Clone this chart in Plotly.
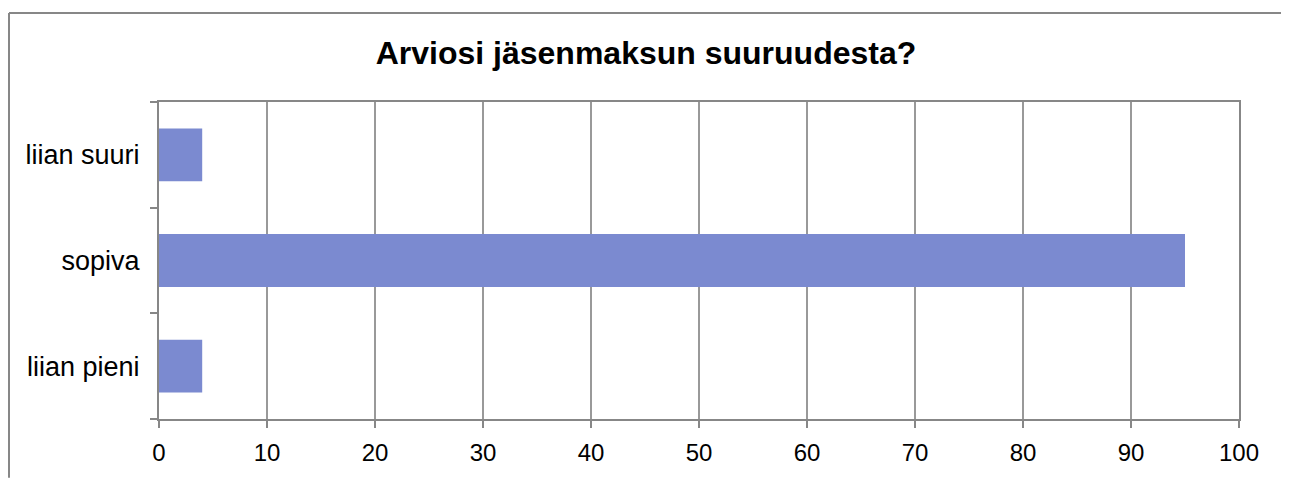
import plotly.graph_objects as go

categories = ["liian pieni", "sopiva", "liian suuri"]
values = [4, 95, 4]
title_text = "Arviosi jäsenmaksun suuruudesta?"
x_ticks = [0, 10, 20, 30, 40, 50, 60, 70, 80, 90, 100]

OFF = 8  # browser body margin
W, H = 1289 - OFF, 478 - OFF
L, R, T, B = 159 - OFF, 50, 102 - OFF, 57
pw, ph = W - L - R, H - T - B

def px(x_page):
    return (x_page - OFF - L) / pw

def py(y_page):
    return (H - B - (y_page - OFF)) / ph

fig = go.Figure()
fig.add_trace(go.Bar(
    x=values, y=categories, orientation="h",
    marker=dict(color="#7b8ad0", line=dict(width=0)),
    width=0.5,
))

frame = "#878787"
fig.add_shape(type="line", xref="paper", yref="paper",
              x0=px(9), x1=px(9), y0=py(480), y1=py(12.5),
              line=dict(color=frame, width=2))
fig.add_shape(type="line", xref="paper", yref="paper",
              x0=px(9), x1=px(1292), y0=py(12.5), y1=py(12.5),
              line=dict(color=frame, width=2))

fig.update_layout(
    width=W, height=H,
    margin=dict(l=L, r=R, t=T, b=B),
    paper_bgcolor="white", plot_bgcolor="white",
    showlegend=False,
    title=dict(text="<b>" + title_text + "</b>", x=(646 - OFF) / W, xanchor="center",
               y=1 - (53 - OFF) / H, yanchor="middle",
               font=dict(family="Liberation Sans, Arial", size=32, color="black")),
    font=dict(family="Liberation Sans, Arial", size=24, color="black"),
    xaxis=dict(range=[0, 100], tickvals=x_ticks, showgrid=True, gridcolor="#999999",
               gridwidth=1.5, showline=True, linecolor=frame, linewidth=2, mirror=True,
               ticks="outside", ticklen=7, tickcolor=frame, tickwidth=1.5,
               tickfont=dict(size=24), ticklabelstandoff=4,
               zeroline=False, fixedrange=True),
    yaxis=dict(categoryorder="array", categoryarray=categories, showgrid=False,
               showline=True, linecolor=frame, linewidth=2, mirror=True,
               ticks="outside", tickson="boundaries", ticklen=7, tickcolor=frame,
               tickwidth=1.5, tickfont=dict(size=27), ticklabelstandoff=12,
               fixedrange=True),
)

fig.write_html("out.html")
